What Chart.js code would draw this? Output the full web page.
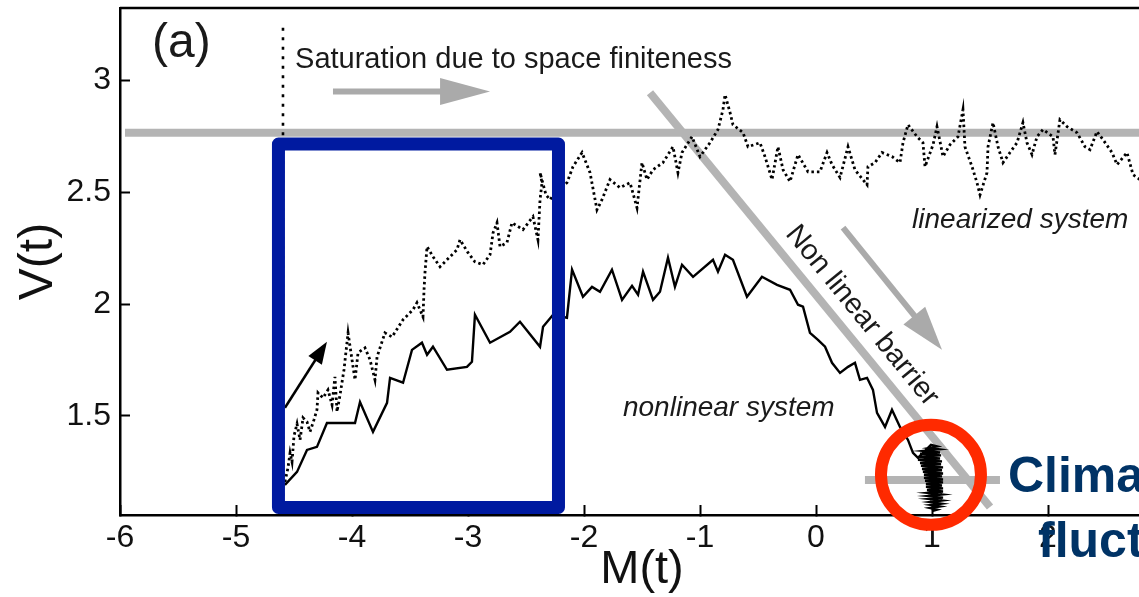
<!DOCTYPE html>
<html>
<head>
<meta charset="utf-8">
<script src="https://cdn.jsdelivr.net/npm/chart.js@4.4.1/dist/chart.umd.min.js"></script>
<style>
  html, body { margin: 0; padding: 0; overflow: hidden; background: #fff; width: 1139px; height: 597px; }
  #wrap { position: relative; width: 1200px; height: 597px; }
</style>
</head>
<body>
<div id="wrap"><canvas id="c" width="1200" height="597"></canvas></div>
<script>
// Axis ticks
const xTickValues = [-6, -5, -4, -3, -2, -1, 0, 1, 2, 3];
const vTickValues = [1.5, 2, 2.5, 3];

// Nonlinear system trajectory: M(t), V(t)
const mNonlinear = [
  -4.578, -4.474, -4.388, -4.302, -4.216, -3.974, -3.931, -3.819, -3.698, -3.672,
  -3.560, -3.483, -3.397, -3.353, -3.302, -3.181, -3.009, -2.966, -2.940, -2.810,
  -2.638, -2.552, -2.379, -2.353, -2.267, -2.147, -2.103, -2.009, -1.931, -1.862,
  -1.759, -1.672, -1.586, -1.534, -1.491, -1.405, -1.345, -1.276, -1.216, -1.155,
  -1.060, -0.888, -0.845, -0.784, -0.716, -0.595, -0.466, -0.336, -0.224, -0.155,
  -0.112, -0.052, 0.017, 0.078, 0.138, 0.207, 0.276, 0.336, 0.379, 0.440,
  0.491, 0.526, 0.595, 0.655, 0.724, 0.793, 0.836, 0.879,
  // trapped near the barrier
  0.991, 1.043, 0.974, 1.060, 0.931, 1.069, 0.897, 1.078, 0.888, 1.069,
  0.879, 1.086, 0.897, 1.078, 0.905, 1.095, 0.914, 1.086, 0.922, 1.095,
  0.931, 1.086, 0.931, 1.095, 0.940, 1.095, 0.948, 1.086, 0.948, 1.095,
  0.957, 1.095, 0.966, 1.086, 0.966, 1.095, 0.974, 1.086, 0.983, 1.078,
  0.991, 1.069, 0.983, 1.043, 1.000
];
const vNonlinear = [
  1.191, 1.249, 1.347, 1.361, 1.468, 1.468, 1.562, 1.428, 1.558, 1.670,
  1.648, 1.795, 1.827, 1.773, 1.809, 1.706, 1.719, 1.742, 1.952, 1.827,
  1.876, 1.921, 1.809, 1.898, 1.952, 1.939, 2.154, 2.033, 2.077, 2.055,
  2.154, 2.019, 2.082, 2.042, 2.145, 2.019, 2.055, 2.207, 2.077, 2.176,
  2.122, 2.198, 2.145, 2.221, 2.198, 2.033, 2.122, 2.086, 2.064, 1.997,
  1.988, 1.871, 1.840, 1.809, 1.737, 1.692, 1.719, 1.737, 1.661, 1.670,
  1.616, 1.513, 1.450, 1.527, 1.450, 1.392, 1.334, 1.312,
  1.370, 1.363, 1.356, 1.350, 1.343, 1.336, 1.330, 1.323, 1.316, 1.309,
  1.303, 1.296, 1.289, 1.283, 1.276, 1.269, 1.262, 1.256, 1.249, 1.242,
  1.236, 1.229, 1.222, 1.215, 1.209, 1.202, 1.195, 1.188, 1.182, 1.175,
  1.168, 1.161, 1.155, 1.148, 1.141, 1.134, 1.128, 1.121, 1.114, 1.107,
  1.101, 1.094, 1.087, 1.080, 1.074
];

// Linearized system trajectory: M(t), V(t)
const mLinear = [
  -4.578, -4.552, -4.534, -4.517, -4.500, -4.474, -4.448, -4.422, -4.388, -4.362,
  -4.328, -4.302, -4.293, -4.250, -4.207, -4.172, -4.147, -4.129, -4.103, -4.069,
  -4.034, -4.000, -3.974, -3.948, -3.888, -3.845, -3.802, -3.784, -3.716, -3.655,
  -3.560, -3.474, -3.440, -3.388, -3.379, -3.371, -3.353, -3.302, -3.241, -3.155,
  -3.095, -3.069, -3.000, -2.940, -2.871, -2.810, -2.784, -2.750, -2.724, -2.664,
  -2.621, -2.526, -2.440, -2.397, -2.379, -2.362, -2.379, -2.328, -2.293, -2.241,
  -2.147, -2.095, -2.017, -1.948, -1.888, -1.845, -1.776, -1.690, -1.603, -1.543,
  -1.500, -1.457, -1.405, -1.319, -1.233, -1.190, -1.155, -1.069, -1.000, -0.914,
  -0.845, -0.802, -0.784, -0.741, -0.716, -0.629, -0.586, -0.483, -0.440, -0.379,
  -0.328, -0.284, -0.224, -0.155, -0.069, 0.034, 0.095, 0.138, 0.207, 0.276,
  0.336, 0.440, 0.448, 0.509, 0.569, 0.655, 0.724, 0.750, 0.793, 0.871,
  0.922, 0.940, 1.009, 1.043, 1.095, 1.155, 1.224, 1.267, 1.284, 1.345,
  1.388, 1.414, 1.474, 1.483, 1.526, 1.569, 1.612, 1.672, 1.733, 1.784,
  1.819, 1.862, 1.905, 1.957, 2.043, 2.060, 2.103, 2.164, 2.250, 2.319,
  2.362, 2.422, 2.474, 2.552, 2.595, 2.681, 2.733, 2.793, 2.860, 2.930, 3.000
];
const vLinear = [
  1.204, 1.267, 1.334, 1.294, 1.410, 1.464, 1.392, 1.491, 1.473, 1.428,
  1.482, 1.527, 1.603, 1.580, 1.616, 1.549, 1.674, 1.518, 1.594, 1.706,
  1.871, 1.751, 1.661, 1.782, 1.804, 1.751, 1.661, 1.764, 1.871, 1.853,
  1.930, 1.975, 2.006, 1.943, 2.064, 2.140, 2.257, 2.212, 2.167, 2.212,
  2.243, 2.288, 2.230, 2.189, 2.176, 2.221, 2.319, 2.364, 2.257, 2.275,
  2.364, 2.333, 2.391, 2.288, 2.467, 2.543, 2.588, 2.489, 2.467, 2.503,
  2.543, 2.615, 2.678, 2.588, 2.422, 2.467, 2.557, 2.521, 2.543, 2.431,
  2.633, 2.557, 2.601, 2.633, 2.704, 2.588, 2.678, 2.749, 2.660, 2.722,
  2.781, 2.870, 2.937, 2.857, 2.803, 2.767, 2.704, 2.722, 2.660, 2.557,
  2.704, 2.601, 2.548, 2.669, 2.592, 2.592, 2.678, 2.624, 2.566, 2.704,
  2.601, 2.534, 2.615, 2.633, 2.678, 2.660, 2.633, 2.722, 2.803, 2.749,
  2.722, 2.615, 2.713, 2.794, 2.660, 2.713, 2.749, 2.870, 2.704, 2.615,
  2.543, 2.489, 2.588, 2.704, 2.812, 2.704, 2.633, 2.678, 2.722, 2.812,
  2.722, 2.669, 2.749, 2.781, 2.749, 2.669, 2.825, 2.794, 2.767, 2.704,
  2.691, 2.772, 2.736, 2.678, 2.624, 2.678, 2.579, 2.557, 2.650, 2.600, 2.680
];

const FONT = '"Liberation Sans", Arial, Helvetica, sans-serif';

const toPoints = (xs, ys) => xs.map((v, i) => ({ x: v, y: ys[i] }));

// Overlay geometry in axis units
const overlay = {
  saturationLevel: { y: 2.767, x0: -5.957 },
  lowLevel: { y: 1.213, x0: 0.422, x1: 1.586 },
  barrier: { x0: -1.431, y0: 2.946, x1: 1.5, y1: 1.092 },
  saturationArrow: { x0: -4.164, y0: 2.951, x1: -2.810, y1: 2.951 },
  barrierArrow: { x0: 0.233, y0: 2.342, x1: 1.086, y1: 1.795 },
  growthArrow: { x0: -4.578, y0: 1.536, x1: -4.216, y1: 1.831 },
  startMarker: { x: -4.595, y0: 3.237 },
  box: { x0: -4.634, y0: 2.716, x1: -2.220, y1: 1.090 },
  ring: { x: 0.991, y: 1.236 }
};

function arrow(ctx, x0, y0, x1, y1, shaftW, headLen, headHalf, color) {
  const a = Math.atan2(y1 - y0, x1 - x0);
  const bx = x1 - headLen * Math.cos(a), by = y1 - headLen * Math.sin(a);
  ctx.strokeStyle = color; ctx.lineWidth = shaftW; ctx.lineCap = 'butt';
  ctx.beginPath(); ctx.moveTo(x0, y0); ctx.lineTo(bx + Math.cos(a), by + Math.sin(a)); ctx.stroke();
  ctx.fillStyle = color;
  ctx.beginPath();
  ctx.moveTo(x1, y1);
  ctx.lineTo(bx + headHalf * Math.sin(a), by - headHalf * Math.cos(a));
  ctx.lineTo(bx - headHalf * Math.sin(a), by + headHalf * Math.cos(a));
  ctx.closePath(); ctx.fill();
}

const overlays = {
  id: 'overlays',
  beforeDatasetsDraw(chart) {
    const { ctx, chartArea, scales: { x, y } } = chart;
    const px = v => x.getPixelForValue(v), py = v => y.getPixelForValue(v);
    const gray = '#b4b4b4';
    ctx.save();
    // frame top edge and right edge
    ctx.strokeStyle = '#000'; ctx.lineWidth = 2.5;
    ctx.beginPath();
    ctx.moveTo(chartArea.left, chartArea.top);
    ctx.lineTo(chartArea.right, chartArea.top);
    ctx.lineTo(chartArea.right, chartArea.bottom);
    ctx.stroke();

    ctx.lineCap = 'butt';
    ctx.strokeStyle = gray; ctx.lineWidth = 8;
    // saturation level
    ctx.beginPath();
    ctx.moveTo(px(overlay.saturationLevel.x0), py(overlay.saturationLevel.y));
    ctx.lineTo(chartArea.right, py(overlay.saturationLevel.y));
    ctx.stroke();
    // lower level
    ctx.beginPath();
    ctx.moveTo(px(overlay.lowLevel.x0), py(overlay.lowLevel.y));
    ctx.lineTo(px(overlay.lowLevel.x1), py(overlay.lowLevel.y));
    ctx.stroke();
    // barrier
    const b = overlay.barrier;
    ctx.beginPath();
    ctx.moveTo(px(b.x0), py(b.y0));
    ctx.lineTo(px(b.x1), py(b.y1));
    ctx.stroke();

    // grey arrows
    const s = overlay.saturationArrow;
    arrow(ctx, px(s.x0), py(s.y0), px(s.x1), py(s.y1), 6, 50, 13.5, '#aaaaaa');
    const d = overlay.barrierArrow;
    arrow(ctx, px(d.x0), py(d.y0), px(d.x1), py(d.y1), 6, 44, 14, '#aaaaaa');

    // start marker
    ctx.strokeStyle = '#000'; ctx.lineWidth = 2.6;
    ctx.setLineDash([3, 6.5]);
    ctx.beginPath();
    ctx.moveTo(px(overlay.startMarker.x), py(overlay.startMarker.y0));
    ctx.lineTo(px(overlay.startMarker.x), chartArea.bottom);
    ctx.stroke();
    ctx.setLineDash([]);
    ctx.restore();
  },
  afterDatasetsDraw(chart) {
    const { ctx, scales: { x, y } } = chart;
    const px = v => x.getPixelForValue(v), py = v => y.getPixelForValue(v);
    ctx.save();

    // growth arrow
    const g = overlay.growthArrow;
    arrow(ctx, px(g.x0), py(g.y0), px(g.x1), py(g.y1), 2.5, 22, 8, '#000');

    // labels
    ctx.fillStyle = '#1a1a1a';
    ctx.textBaseline = 'middle';
    ctx.textAlign = 'left';
    ctx.font = '48px ' + FONT;
    ctx.fillText('(a)', px(-5.724), py(3.166));

    ctx.textBaseline = 'alphabetic';
    ctx.font = '29px ' + FONT;
    ctx.fillText('Saturation due to space finiteness', px(-4.491), py(3.058));
    ctx.font = 'italic 28px ' + FONT;
    ctx.fillText('linearized system', px(0.828), py(2.342));
    ctx.fillText('nonlinear system', px(-1.664), py(1.500));

    // barrier caption, along the barrier line
    const b = overlay.barrier;
    const ang = Math.atan2(py(b.y1) - py(b.y0), px(b.x1) - px(b.x0));
    ctx.save();
    ctx.translate(px(0.397), py(1.948));
    ctx.rotate(ang);
    ctx.textAlign = 'center';
    ctx.textBaseline = 'middle';
    ctx.font = '29px ' + FONT;
    ctx.fillText('Non linear barrier', 0, 0);
    ctx.restore();

    // highlight box
    const bx = overlay.box;
    ctx.strokeStyle = '#001aa0'; ctx.lineWidth = 13; ctx.lineJoin = 'round';
    ctx.strokeRect(px(bx.x0), py(bx.y0), px(bx.x1) - px(bx.x0), py(bx.y1) - py(bx.y0));

    // highlight ring
    ctx.strokeStyle = '#ff2a00'; ctx.lineWidth = 12;
    ctx.beginPath();
    ctx.arc(px(overlay.ring.x), py(overlay.ring.y), 50, 0, Math.PI * 2);
    ctx.stroke();

    // callout
    ctx.fillStyle = '#003366';
    ctx.font = 'bold 50px ' + FONT;
    ctx.textAlign = 'left';
    ctx.textBaseline = 'alphabetic';
    ctx.fillText('Climate', px(1.655), py(1.159));
    ctx.fillText('fluctuations', px(1.914), py(0.868));
    ctx.restore();
  }
};

const tickText = v => String(v);

new Chart(document.getElementById('c'), {
  type: 'scatter',
  data: {
    datasets: [
      {
        label: 'nonlinear system',
        data: toPoints(mNonlinear, vNonlinear),
        showLine: true,
        borderColor: '#000',
        borderWidth: 2.4,
        pointRadius: 0,
        tension: 0
      },
      {
        label: 'linearized system',
        data: toPoints(mLinear, vLinear),
        showLine: true,
        borderColor: '#000',
        borderWidth: 2.8,
        borderDash: [2.5, 3],
        pointRadius: 0,
        tension: 0
      }
    ]
  },
  options: {
    responsive: false,
    animation: false,
    devicePixelRatio: 1,
    layout: { padding: { top: 8, right: 36, bottom: 0, left: 0 } },
    plugins: { legend: { display: false }, tooltip: { enabled: false } },
    scales: {
      x: {
        type: 'linear',
        min: -6,
        max: 3,
        afterFit(scale) { scale.height = 82; scale.paddingLeft = 0; scale.paddingRight = 0; },
        afterBuildTicks(scale) { scale.ticks = xTickValues.map(v => ({ value: v })); },
        border: { display: true, color: '#000', width: 2.5 },
        grid: { drawOnChartArea: false, drawTicks: true, tickLength: -10, tickColor: '#000', tickWidth: 2 },
        ticks: { color: '#111', font: { family: FONT, size: 32 }, padding: 14, maxRotation: 0, autoSkip: false, callback: tickText },
        title: { display: true, text: 'M(t)', color: '#111', font: { family: FONT, size: 47, lineHeight: 1 }, padding: { top: 0, bottom: 3 } }
      },
      y: {
        type: 'linear',
        min: 1.056,
        max: 3.325,
        afterFit(scale) { scale.width = 120; scale.paddingTop = 0; scale.paddingBottom = 0; },
        afterBuildTicks(scale) { scale.ticks = vTickValues.map(v => ({ value: v })); },
        border: { display: true, color: '#000', width: 2.5 },
        grid: { drawOnChartArea: false, drawTicks: true, tickLength: -10, tickColor: '#000', tickWidth: 2 },
        ticks: { color: '#111', font: { family: FONT, size: 32 }, padding: 19, callback: tickText },
        title: { display: true, text: 'V(t)', color: '#111', font: { family: FONT, size: 48, lineHeight: 1 }, padding: { top: 15, bottom: 0 } }
      }
    }
  },
  plugins: [overlays]
});
</script>
</body>
</html>
